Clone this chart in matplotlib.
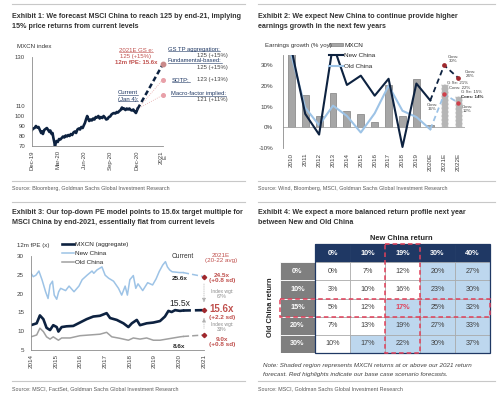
import numpy as np
import matplotlib
matplotlib.use('Agg')
import matplotlib.pyplot as plt
import matplotlib.font_manager as fm
from matplotlib.lines import Line2D
from matplotlib.patches import Rectangle, Patch

# ---------------- data ----------------
# Exhibit 1: MXCN index (x = months after Dec-19, 2021E squeezed in at 15)
idx_month = [0.00, 0.15, 0.30, 0.45, 0.60, 0.75, 0.90, 1.05, 1.15, 1.25, 1.40, 1.55, 1.70, 1.85,
             2.00, 2.10, 2.25, 2.35, 2.45, 2.55, 2.63, 2.72, 2.82, 2.95, 3.10, 3.25, 3.40, 3.55,
             3.70, 3.85, 4.00, 4.15, 4.30, 4.45, 4.60, 4.75, 4.90, 5.05, 5.20, 5.35, 5.50, 5.65,
             5.80, 5.95, 6.06, 6.20, 6.32, 6.45, 6.55, 6.70, 6.85, 7.00, 7.15, 7.30, 7.45, 7.60,
             7.75, 7.90, 8.05, 8.20, 8.35, 8.50, 8.65, 8.80, 8.95, 9.10, 9.25, 9.40, 9.55, 9.70,
             9.85, 10.00, 10.15, 10.30, 10.40, 10.55, 10.70, 10.85, 11.00, 11.15, 11.30, 11.45,
             11.60, 11.75, 11.90, 12.00, 12.08]
idx_level = [86, 87.5, 88, 90, 88.5, 89, 86, 83, 84.5, 82, 86, 87, 88, 86,
             84, 85.5, 82, 83, 78, 74, 70, 73, 75, 74, 77, 76.5, 78, 79.5,
             78.5, 80.5, 79.5, 81, 80, 82, 81, 83.5, 84.5, 83, 86.5, 87.5, 86.5, 89,
             88, 91, 93, 97, 100, 97, 95, 96.5, 95.5, 97.5, 96.5, 99, 98.5, 100,
             97.5, 99, 98, 100, 98.5, 96.5, 97, 99, 99.5, 101.5, 102.5, 103, 102.5, 104,
             103.5, 105, 106, 108.5, 107, 107.5, 106, 107.5, 106.5, 107.5, 106, 105.5,
             106.5, 104.5, 103, 105, 107]
idx_ticks = [0, 3, 6, 9, 12, 15]
idx_ticklabels = ['Dec-19', 'Mar-20', 'Jun-20', 'Sep-20', 'Dec-20', '2021\nE']
target_main = 125
target_other = [123, 121]

# Exhibit 2: earnings growth (% yoy)
eg_years = ['2010', '2011', '2012', '2013', '2014', '2015', '2016', '2017', '2018', '2019',
            '2020E', '2021E', '2022E']
mxcn_eg = [36, 15.5, 5.5, 16.5, 8, 6.5, 2.5, 20.5, 5.5, 23.5, 1, 21, 15]
new_eg = [38, 6.5, -3.5, 40, 20.5, 25, 15.3, 23.5, -9.5, 21.2, 13, 30, 24]
old_eg = [35, 9.5, 1, 10.5, 5.5, -2.5, 6.8, 20.2, 8, 5, -1, 16, 12]

# Exhibit 3: 12m forward PE
pe_new_x = [2014.0, 2014.09, 2014.2, 2014.32, 2014.45, 2014.59, 2014.69, 2014.77, 2014.87, 2014.94,
            2015.04, 2015.12, 2015.2, 2015.4, 2015.54, 2015.74, 2015.94, 2016.07, 2016.27, 2016.47,
            2016.54, 2016.67, 2016.87, 2017.0, 2017.14, 2017.34, 2017.54, 2017.67, 2017.81, 2017.9,
            2018.0, 2018.14, 2018.24, 2018.33, 2018.52, 2018.72, 2018.92, 2019.06, 2019.19, 2019.33,
            2019.44, 2019.52, 2019.61, 2019.71, 2019.87, 2020.0, 2020.15]
pe_new = [25.4, 24.5, 24.9, 26.0, 23.6, 20.5, 18.7, 22.3, 23.3, 19.6,
          18.5, 20.5, 21.4, 20.8, 22.0, 20.5, 22.0, 23.7, 24.9, 26.0,
          25.4, 26.3, 27.1, 24.9, 24.1, 23.3, 21.4, 19.6, 22.0, 19.6,
          23.7, 24.8, 21.4, 22.6, 20.8, 22.9, 22.3, 23.9, 25.9, 27.6,
          28.5, 27.1, 26.3, 25.8, 25.7, 25.6, 25.6]
pe_mxcn_x = [2014.0, 2014.23, 2014.36, 2014.5, 2014.63, 2014.77, 2014.9, 2015.04, 2015.11, 2015.24,
             2015.44, 2015.71, 2015.98, 2016.25, 2016.52, 2016.79, 2017.06, 2017.2, 2017.47, 2017.74,
             2017.94, 2018.08, 2018.28, 2018.41, 2018.68, 2018.95, 2019.22, 2019.42, 2019.56, 2019.69,
             2019.83, 2020.03, 2020.15]
pe_mxcn = [11.6, 12.1, 14.2, 13.2, 10.9, 10.3, 11.6, 11.1, 9.9, 11.1,
           11.3, 11.4, 12.3, 13.2, 13.9, 14.1, 14.8, 13.5, 13.0, 12.1,
           11.1, 12.1, 13.0, 11.6, 12.1, 12.3, 12.7, 13.9, 15.4, 15.1,
           15.6, 15.4, 15.5]
pe_old_x = [2014.0, 2014.23, 2014.36, 2014.5, 2014.63, 2014.77, 2014.9, 2015.11, 2015.24, 2015.58,
            2015.98, 2016.38, 2016.79, 2017.06, 2017.27, 2017.6, 2017.94, 2018.14, 2018.41, 2018.68,
            2018.95, 2019.22, 2019.49, 2019.76, 2020.03, 2020.15]
pe_old = [8.5, 9.0, 10.8, 9.9, 8.5, 7.9, 8.5, 7.6, 8.2, 8.2,
          8.8, 9.0, 9.2, 9.7, 8.5, 8.1, 7.6, 8.2, 7.9, 8.2,
          7.6, 7.6, 7.9, 8.2, 8.5, 8.6]
pe_2021 = {'new': 24.5, 'mxcn': 15.6, 'old': 9.0}

# Exhibit 4: return matrix
new_ret = ['0%', '10%', '19%', '30%', '40%']
old_ret = ['0%', '10%', '15%', '20%', '30%']
mxcn_ret = [[0, 7, 12, 20, 27],
            [3, 10, 16, 23, 30],
            [5, 12, 17, 25, 32],
            [7, 13, 19, 27, 33],
            [10, 17, 22, 30, 37]]
ret_target = 17

# ---------------- style ----------------
names = {f.name for f in fm.fontManager.ttflist}
HAS_NARROW = 'Liberation Sans Narrow' in names
NARROW = 'Liberation Sans Narrow' if HAS_NARROW else 'Liberation Sans'
plt.rcParams['font.family'] = ['Liberation Sans', 'DejaVu Sans']
TFS = 6.1 if HAS_NARROW else 5.1
SFS = 4.6 if HAS_NARROW else 3.9

navy = '#0d2240'
lblue = '#9dc3e6'
gray = '#a6a6a6'
red = '#c0504d'
dred = '#a0282d'
txt = '#404040'

W, H = 500, 399
fig = plt.figure(figsize=(5, 3.99), dpi=100)


def fx(x):
    return x / W


def fy(y):
    return 1 - y / H


def box(x0, y0, x1, y1):
    return [x0 / W, 1 - y1 / H, (x1 - x0) / W, (y1 - y0) / H]


def ftext(x, y, s, **kw):
    kw.setdefault('color', txt)
    return fig.text(fx(x), fy(y), s, **kw)


def hline(x0, x1, y, color='#c8c8c8', lw=0.8):
    fig.add_artist(Line2D([fx(x0), fx(x1)], [fy(y), fy(y)], color=color, lw=lw))


underlined = []

# frame lines, titles, sources
titles = [
    (12, 18, 'Exhibit 1: We forecast MSCI China to reach 125 by end-21, implying\n15% price returns from current levels'),
    (258, 18, 'Exhibit 2: We expect New China to continue provide higher\nearnings growth in the next few years'),
    (12, 214, 'Exhibit 3: Our top-down PE model points to 15.6x target multiple for\nMSCI China by end-2021, essentially flat from current levels'),
    (258, 214, 'Exhibit 4: We expect a more balanced return profile next year\nbetween New and Old China'),
]
for x0, y0, s in titles:
    l1, l2 = s.split('\n')
    ftext(x0, y0, l1, fontsize=TFS, fontweight='bold', family=NARROW, color='#333333', va='baseline')
    ftext(x0, y0 + 10, l2, fontsize=TFS, fontweight='bold', family=NARROW, color='#333333', va='baseline')

hline(12, 245, 4)
hline(258, 495, 4)
hline(12, 245, 202)
hline(258, 495, 202)
hline(12, 245, 181)
hline(258, 495, 181)
hline(12, 245, 381)
hline(258, 495, 381)

sources = [
    (12, 189, 'Source: Bloomberg, Goldman Sachs Global Investment Research'),
    (258, 189, 'Source: Wind, Bloomberg, MSCI, Goldman Sachs Global Investment Research'),
    (12, 389, 'Source: MSCI, FactSet, Goldman Sachs Global Investment Research'),
    (258, 389, 'Source: MSCI, Goldman Sachs Global Investment Research'),
]
for x0, y0, s in sources:
    ftext(x0, y0, s, fontsize=SFS, family=NARROW, color='#595959', va='center')


def style_axes(ax, fs=4.5):
    for side in ['top', 'right']:
        ax.spines[side].set_visible(False)
    for side in ['left', 'bottom']:
        ax.spines[side].set_color('#8c8c8c')
        ax.spines[side].set_linewidth(0.6)
    ax.tick_params(labelsize=fs, colors=txt, length=0)
    ax.patch.set_alpha(0)


# ---------------- Exhibit 1 ----------------
kv = [70, 110, 121, 125, 130]
kp = [0, 40, 51, 82, 89]


def fwd(v):
    return np.interp(v, kv, kp)


def inv(p):
    return np.interp(p, kp, kv)


ax1 = fig.add_axes(box(32, 57, 163, 146))
ax1.set_yscale('function', functions=(fwd, inv))
ax1.set_xlim(0, 15)
ax1.set_ylim(70, 130)
style_axes(ax1, 4.3)
ax1.set_yticks([70, 80, 90, 100, 110, 130])
ax1.set_xticks(idx_ticks)
ax1.set_xticklabels(idx_ticklabels, rotation=90, va='top', ha='center', linespacing=0.9)
ax1.tick_params(axis='y', pad=5)
ax1.tick_params(axis='x', pad=3)
ax1.axvline(15, color='#d0d0d0', lw=0.5, ls=':')
ax1.plot(idx_month, idx_level, color=navy, lw=1.9, solid_joinstyle='round')
cur_x, cur_y = idx_month[-1], idx_level[-1]
for t in target_other:
    ax1.plot([cur_x, 15], [cur_y, t], color='#e6a9a9', lw=0.6, ls=':')
    ax1.plot([15], [t], 'o', ms=2.6, color='#e8a0a8', clip_on=False)
ax1.plot([cur_x, 15], [cur_y, target_main], color=navy, lw=1.8, ls=(0, (2, 1.2)))
ax1.plot([15], [target_main], 'o', ms=3.2, color='#c98a8a', clip_on=False)

ftext(17, 47, 'MXCN index', fontsize=4.4, va='center', color='#333333')
underlined.append(ftext(136, 50, '2021E GS e:', fontsize=4.3, color=red, ha='center', va='center'))
ftext(136, 56.5, '125 (+15%)', fontsize=4.3, color=red, ha='center', va='center')
ftext(136, 63, '12m fPE: 15.6x', fontsize=4.3, color=red, ha='center', va='center', fontweight='bold')
underlined.append(ftext(128, 93, 'Current', fontsize=4.3, color='#1f3864', ha='center', va='center'))
underlined.append(ftext(128, 99.5, '(Jan 4):', fontsize=4.3, color='#1f3864', ha='center', va='center'))
underlined.append(ftext(168, 49, 'GS TP aggregation:', fontsize=4.2, color='#1f3864', va='center'))
ftext(228, 55, '125 (+15%)', fontsize=4.2, ha='right', va='center')
underlined.append(ftext(168, 61, 'Fundamental-based:', fontsize=4.2, color='#1f3864', va='center'))
ftext(228, 67, '125 (+15%)', fontsize=4.2, ha='right', va='center')
underlined.append(ftext(172, 80, 'SOTP:', fontsize=4.2, color='#1f3864', va='center'))
ftext(228, 80, '123 (+13%)', fontsize=4.2, ha='right', va='center')
underlined.append(ftext(171, 94, 'Macro-factor implied:', fontsize=4.2, color='#1f3864', va='center'))
ftext(228, 100, '121 (+11%)', fontsize=4.2, ha='right', va='center')

# ---------------- Exhibit 2 ----------------
ax2 = fig.add_axes(box(283, 55, 465, 148))
xp = np.arange(len(eg_years))
nh = 11  # historical + 2020E solid
ax2.set_xlim(-0.6, 12.5)
ax2.set_ylim(-10, 35)
style_axes(ax2, 4.5)
ax2.spines['bottom'].set_visible(False)
ax2.axhline(0, color='#a6a6a6', lw=0.6)
ax2.bar(xp[:nh], mxcn_eg[:nh], width=0.5, color=gray, edgecolor='#7f7f7f', lw=0.5)
ax2.bar(xp[nh:], mxcn_eg[nh:], width=0.5, color='#b5b5b5', edgecolor='#f2f2f2', lw=0.8,
        ls=(0, (2, 1.5)))
ax2.plot(xp[:nh], old_eg[:nh], color=lblue, lw=1.5)
ax2.plot(xp[nh - 1:], old_eg[nh - 1:], color=lblue, lw=1.3, ls=(0, (3, 2)))
ax2.plot(xp[:nh], new_eg[:nh], color=navy, lw=1.5)
ax2.plot(xp[nh - 1:], new_eg[nh - 1:], color=navy, lw=1.3, ls=(0, (3, 2)))
ax2.plot(xp[nh:], new_eg[nh:], 'o', ms=2.4, color=dred, zorder=5)
ax2.plot(xp[nh:], old_eg[nh:], 'o', ms=2.2, color='#d0404a', zorder=5)
ax2.set_xticks(xp)
ax2.set_xticklabels(eg_years, rotation=90)
ax2.set_yticks([-10, 0, 10, 20, 30])
ax2.set_yticklabels(['-10%', '0%', '10%', '20%', '30%'])
ax2.tick_params(axis='y', pad=7)
ax2.tick_params(axis='x', pad=3.5)
h2 = [Patch(facecolor=gray, edgecolor='#7f7f7f', lw=0.5),
      Line2D([], [], color=navy, lw=1.5), Line2D([], [], color=lblue, lw=1.5)]
ax2.legend(h2, ['MXCN', 'New China', 'Old China'], loc='upper left',
           bbox_to_anchor=(fx(329), fy(43)), bbox_transform=fig.transFigure, frameon=False,
           fontsize=4.6, labelspacing=0.85, handlelength=2.2, handleheight=0.45,
           handletextpad=0.15, borderpad=0, borderaxespad=0, labelcolor='#262626')
ftext(265, 46, 'Earnings growth (% yoy)', fontsize=4.4, va='center', color='#333333')
sm = dict(fontsize=3.2, ha='center', va='center', linespacing=1.0)
ftext(453, 59.5, 'Cons:\n30%', **sm)
ftext(470, 74, 'Cons:\n24%', **sm)
ftext(458, 83, 'G Se: 21%', **sm)
ftext(460, 88, 'Cons: 22%', **sm)
ftext(472, 92, 'G Se: 15%', **sm)
ftext(472, 97, 'Cons: 14%', fontsize=3.2, ha='center', va='center', fontweight='bold', color='#262626')
ftext(467, 109, 'Cons:\n12%', **sm)
ftext(432, 107.5, 'Cons:\n16%', **sm)

# ---------------- Exhibit 3 ----------------
ax3 = fig.add_axes(box(31, 256, 204, 350))
ax3.set_xlim(2014, 2021)
ax3.set_ylim(5, 30)
style_axes(ax3, 4.5)
ax3.set_yticks([5, 10, 15, 20, 25, 30])
ax3.set_xticks(range(2014, 2022))
ax3.set_xticklabels([str(y) for y in range(2014, 2022)], rotation=90)
ax3.tick_params(axis='y', pad=5)
ax3.tick_params(axis='x', pad=3)
ax3.plot(pe_new_x, pe_new, color=lblue, lw=1.1)
ax3.plot(pe_old_x, pe_old, color='#a0a0a0', lw=1.1)
ax3.plot(pe_mxcn_x, pe_mxcn, color=navy, lw=1.9)
ax3.plot([pe_new_x[-1], 2021], [pe_new[-1], pe_2021['new']], color=lblue, lw=1.1, ls=(0, (4, 2)))
ax3.plot([pe_old_x[-1], 2021], [pe_old[-1], pe_2021['old']], color='#a0a0a0', lw=1.1, ls=(0, (4, 2)))
ax3.plot([pe_mxcn_x[-1], 2021], [pe_mxcn[-1], pe_2021['mxcn']], color=navy, lw=1.9, ls=(0, (3, 1.5)))
ax3.plot([2021] * 3, [pe_2021['new'], pe_2021['mxcn'], pe_2021['old']], 'D', ms=2.2,
         color=dred, clip_on=False, zorder=5)
arr = dict(arrowstyle='-|>,head_length=0.25,head_width=0.12', color='#b0b0b0', lw=0.5, ls=':')
ax3.annotate('', xy=(2021, pe_2021['mxcn'] + 1.3), xytext=(2021, pe_2021['new'] - 1.2),
             arrowprops=arr, annotation_clip=False)
ax3.annotate('', xy=(2021, pe_2021['mxcn'] - 1.3), xytext=(2021, pe_2021['old'] + 1.0),
             arrowprops=arr, annotation_clip=False)
h3 = [Line2D([], [], color=navy, lw=1.9), Line2D([], [], color=lblue, lw=1.1),
      Line2D([], [], color='#a0a0a0', lw=1.1)]
ax3.legend(h3, ['MXCN (aggregate)', 'New China', 'Old China'], loc='upper left',
           bbox_to_anchor=(fx(62), fy(241.5)), bbox_transform=fig.transFigure, frameon=False,
           fontsize=4.6, labelspacing=0.55, handlelength=1.9, handletextpad=0.15,
           borderpad=0, borderaxespad=0, labelcolor='#262626')
ftext(17, 245, '12m fPE (x)', fontsize=4.4, va='center', color='#333333')
ftext(183, 256, 'Current', fontsize=4.8, ha='center', va='center', color='#333333')
ftext(180, 279, '25.6x', fontsize=4.6, ha='center', va='center', color='#262626', fontweight='bold')
ftext(180, 303, '15.5x', fontsize=6.2, ha='center', va='center', color='#262626')
ftext(179, 346, '8.6x', fontsize=4.6, ha='center', va='center', color='#262626', fontweight='bold')
rk = dict(ha='center', va='center', color=red, linespacing=1.05)
ftext(221, 258, '2021E\n(20-22 avg)', fontsize=4.5, **rk)
ftext(222, 278, '24.5x\n(+0.8 sd)', fontsize=4.6, fontweight='bold', **rk)
ftext(222, 293.5, 'Index wgt:\n67%', fontsize=3.5, ha='center', va='center', color='#8c8c8c',
      linespacing=1.0)
ftext(222, 308.5, '15.6x', fontsize=7.0, fontweight='bold', **rk)
ftext(222, 317.5, '(+2.2 sd)', fontsize=4.6, fontweight='bold', **rk)
ftext(222, 327, 'Index wgt:\n33%', fontsize=3.5, ha='center', va='center', color='#8c8c8c',
      linespacing=1.0)
ftext(222, 342, '9.0x\n(+0.8 sd)', fontsize=4.6, fontweight='bold', **rk)

# ---------------- Exhibit 4 ----------------
ax4 = fig.add_axes(box(280, 244, 490, 353))
ax4.set_xlim(0, 6)
ax4.set_ylim(6, 0)
ax4.axis('off')
hdr_navy = '#1f3864'
for c, lab in enumerate(new_ret):
    ax4.add_patch(Rectangle((c + 1, 0), 1, 1, facecolor=hdr_navy, edgecolor=hdr_navy, lw=0.5))
    ax4.text(c + 1.5, 0.5, lab, color='white', fontsize=5.2, fontweight='bold', ha='center', va='center')
for r, lab in enumerate(old_ret):
    ax4.add_patch(Rectangle((0, r + 1), 1, 1, facecolor='#7f7f7f', edgecolor='white', lw=0.6))
    ax4.text(0.5, r + 1.5, lab, color='white', fontsize=5.2, fontweight='bold', ha='center', va='center')
for r in range(len(old_ret)):
    for c in range(len(new_ret)):
        v = mxcn_ret[r][c]
        fc = '#bdd7ee' if v >= ret_target else 'white'
        ax4.add_patch(Rectangle((c + 1, r + 1), 1, 1, facecolor=fc, edgecolor='#a6a6a6', lw=0.5))
        base = (new_ret[c] == '19%') and (old_ret[r] == '15%')
        ax4.text(c + 1.5, r + 1.5, f'{v}%', fontsize=5.2, ha='center', va='center',
                 color='#e0405a' if base else txt, fontweight='bold' if base else 'normal')
ax4.add_patch(Rectangle((1, 0), 5, 6, fill=False, edgecolor=hdr_navy, lw=0.9, clip_on=False))
ci = new_ret.index('19%')
ri = old_ret.index('15%')
ax4.add_patch(Rectangle((ci + 1, 0), 1, 6, fill=False, edgecolor='#e0405a', lw=1.1,
                        ls=(0, (3, 2)), clip_on=False, zorder=5))
ax4.add_patch(Rectangle((0, ri + 1), 6, 1, fill=False, edgecolor='#e0405a', lw=1.1,
                        ls=(0, (3, 2)), clip_on=False, zorder=5))
ftext(401, 238, 'New China return', fontsize=5.4, fontweight='bold', ha='center', va='center',
      color='#262626')
ftext(270, 307, 'Old China return', fontsize=5.4, fontweight='bold', ha='center', va='center',
      rotation=90, color='#262626')
ftext(263, 366, 'Note: Shaded region represents MXCN returns at or above our 2021 return',
      fontsize=4.5, style='italic', va='center')
ftext(263, 374.5, 'forecast. Red highlights indicate our base case scenario forecasts.',
      fontsize=4.5, style='italic', va='center')

# underlines
fig.canvas.draw()
rend = fig.canvas.get_renderer()
for t in underlined:
    bb = t.get_window_extent(rend)
    y = (bb.y0 + 1.0) / H
    fig.add_artist(Line2D([bb.x0 / W, bb.x1 / W], [y, y], color=t.get_color(), lw=0.4))

fig.savefig('out.png', dpi=100)
